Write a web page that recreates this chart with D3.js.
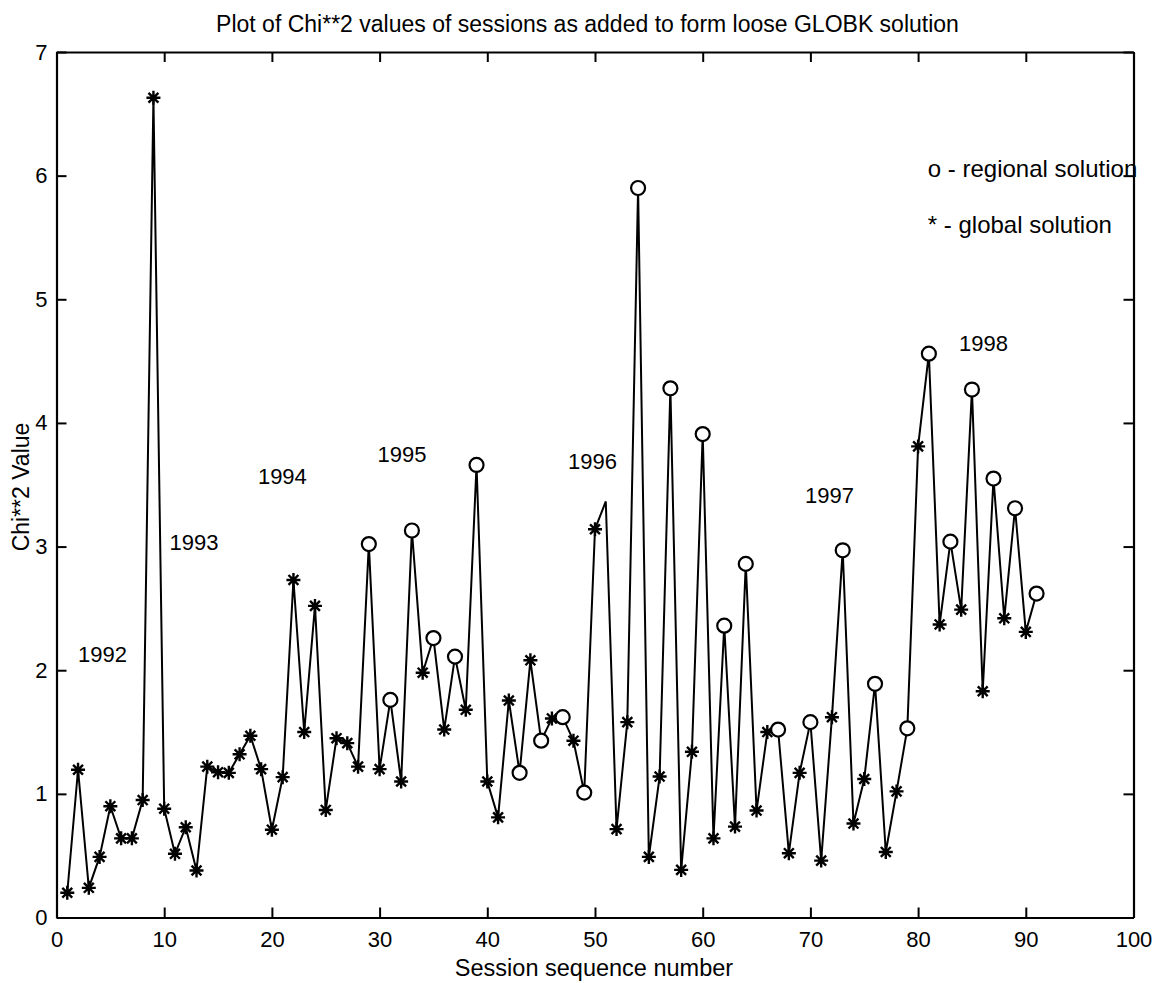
<!DOCTYPE html>
<html>
<head>
<meta charset="utf-8">
<script src="https://cdn.jsdelivr.net/npm/d3@7/dist/d3.min.js"></script>
<style>
  body { margin: 0; background: #fff; }
  svg { display: block; font-family: "Liberation Sans", Arial, Helvetica, sans-serif; }
</style>
</head>
<body>
<svg id="chart"></svg>
<script>
"use strict";

// Chi**2 value of each session, in sequence order 1..91
const chiValues = [
  0.20, 1.195, 0.24, 0.49, 0.90, 0.64, 0.64, 0.95, 6.63, 0.88,
  0.515, 0.73, 0.38, 1.22, 1.175, 1.17, 1.32, 1.47, 1.20, 0.71,
  1.135, 2.73, 1.50, 2.52, 0.87, 1.45, 1.41, 1.22, 3.02, 1.20,
  1.76, 1.10, 3.13, 1.98, 2.26, 1.52, 2.11, 1.68, 3.66, 1.10,
  0.81, 1.755, 1.17, 2.08, 1.43, 1.61, 1.62, 1.43, 1.01, 3.14,
  3.365, 0.715, 1.58, 5.90, 0.49, 1.14, 4.28, 0.385, 1.34, 3.91,
  0.64, 2.36, 0.735, 2.86, 0.865, 1.50, 1.52, 0.52, 1.17, 1.58,
  0.46, 1.62, 2.97, 0.76, 1.12, 1.89, 0.53, 1.02, 1.53, 3.81,
  4.56, 2.37, 3.04, 2.49, 4.27, 1.83, 3.55, 2.42, 3.31, 2.31,
  2.62
];

// marker per session: "o" regional, "*" global, "" none
const solutionTypes = [
  "*", "*", "*", "*", "*", "*", "*", "*", "*", "*",
  "*", "*", "*", "*", "*", "*", "*", "*", "*", "*",
  "*", "*", "*", "*", "*", "*", "*", "*", "o", "*",
  "o", "*", "o", "*", "o", "*", "o", "*", "o", "*",
  "*", "*", "o", "*", "o", "*", "o", "*", "o", "*",
  "", "*", "*", "o", "*", "*", "o", "*", "*", "o",
  "*", "o", "*", "o", "*", "*", "o", "*", "*", "o",
  "*", "*", "o", "*", "*", "o", "*", "*", "o", "*",
  "o", "*", "o", "*", "o", "*", "o", "*", "o", "*",
  "o"
];

const sessions = chiValues.map((v, i) => i + 1);

// year annotations (session number, chi value of text anchor)
const yearNames = ["1992", "1993", "1994", "1995", "1996", "1997", "1998"];
const yearSessions = [2.0, 10.5, 18.7, 29.8, 47.5, 69.5, 83.8];
const yearChi = [2.07, 2.97, 3.51, 3.68, 3.63, 3.35, 4.58];

const legendLines = ["o - regional solution", "* - global solution"];
const legendSession = 80.9;
const legendChi = [5.99, 5.54];

const xTicks = [0, 10, 20, 30, 40, 50, 60, 70, 80, 90, 100];
const yTicks = [0, 1, 2, 3, 4, 5, 6, 7];

const width = 1155;
const height = 983;
const plotLeft = 56.5;
const plotRight = 1133.5;
const plotTop = 52;
const plotBottom = 917.5;

const svg = d3.select("#chart").attr("width", width).attr("height", height);

const xScale = d3.scaleLinear().domain([0, 100]).range([plotLeft, plotRight]);
const yScale = d3.scaleLinear().domain([0, 7]).range([plotBottom, plotTop]);

const styleAxis = (g) => {
  g.select(".domain").attr("stroke", "#000").attr("stroke-width", 2.2);
  g.selectAll(".tick line").attr("stroke", "#000").attr("stroke-width", 2);
  g.selectAll(".tick text").attr("fill", "#000").attr("font-size", 22)
    .attr("font-family", "\"Liberation Sans\", Arial, Helvetica, sans-serif");
};

svg.append("g")
  .attr("transform", `translate(0,${plotBottom})`)
  .call(d3.axisBottom(xScale).tickValues(xTicks).tickFormat(d3.format("d"))
    .tickSizeInner(-10).tickSizeOuter(0).tickPadding(14))
  .call(styleAxis);

svg.append("g")
  .attr("transform", `translate(0,${plotTop})`)
  .call(d3.axisTop(xScale).tickValues(xTicks).tickFormat("")
    .tickSizeInner(-10).tickSizeOuter(0))
  .call(styleAxis);

svg.append("g")
  .attr("transform", `translate(${plotLeft},0)`)
  .call(d3.axisLeft(yScale).tickValues(yTicks).tickFormat(d3.format("d"))
    .tickSizeInner(-10).tickSizeOuter(0).tickPadding(9))
  .call(styleAxis);

svg.append("g")
  .attr("transform", `translate(${plotRight},0)`)
  .call(d3.axisRight(yScale).tickValues(yTicks).tickFormat("")
    .tickSizeInner(-10).tickSizeOuter(0))
  .call(styleAxis);

// connecting line
const line = d3.line()
  .x((d, i) => xScale(sessions[i]))
  .y((d) => yScale(d));

svg.append("path")
  .datum(chiValues)
  .attr("fill", "none")
  .attr("stroke", "#000")
  .attr("stroke-width", 2)
  .attr("stroke-linejoin", "miter")
  .attr("d", line);

// markers
const points = chiValues.map((v, i) => ({ x: sessions[i], y: v, type: solutionTypes[i] }));

const starPath = (() => {
  const r = 7;
  const q = r * Math.SQRT1_2;
  return `M${-r},0L${r},0M0,${-r}L0,${r}M${-q},${-q}L${q},${q}M${-q},${q}L${q},${-q}`;
})();

svg.append("g")
  .selectAll("path")
  .data(points.filter((p) => p.type === "*"))
  .join("path")
  .attr("transform", (p) => `translate(${xScale(p.x)},${yScale(p.y)})`)
  .attr("d", starPath)
  .attr("fill", "none")
  .attr("stroke", "#000")
  .attr("stroke-width", 2.4);

svg.append("g")
  .selectAll("circle")
  .data(points.filter((p) => p.type === "o"))
  .join("circle")
  .attr("cx", (p) => xScale(p.x))
  .attr("cy", (p) => yScale(p.y))
  .attr("r", 7)
  .attr("fill", "#fff")
  .attr("stroke", "#000")
  .attr("stroke-width", 2.2);

// year labels
svg.append("g")
  .selectAll("text")
  .data(yearNames)
  .join("text")
  .attr("x", (d, i) => xScale(yearSessions[i]))
  .attr("y", (d, i) => yScale(yearChi[i]))
  .attr("font-size", 22)
  .attr("fill", "#000")
  .text((d) => d);

// legend text
svg.append("g")
  .selectAll("text")
  .data(legendLines)
  .join("text")
  .attr("x", xScale(legendSession))
  .attr("y", (d, i) => yScale(legendChi[i]))
  .attr("font-size", 24)
  .attr("fill", "#000")
  .text((d) => d);

// titles
svg.append("text")
  .attr("x", 587.5)
  .attr("y", 32)
  .attr("text-anchor", "middle")
  .attr("font-size", 23)
  .attr("fill", "#000")
  .text("Plot of Chi**2 values of sessions as added to form loose GLOBK solution");

svg.append("text")
  .attr("x", 594)
  .attr("y", 976)
  .attr("text-anchor", "middle")
  .attr("font-size", 23.5)
  .attr("fill", "#000")
  .text("Session sequence number");

svg.append("text")
  .attr("transform", "translate(29,487) rotate(-90)")
  .attr("text-anchor", "middle")
  .attr("font-size", 23)
  .attr("fill", "#000")
  .text("Chi**2 Value");
</script>
</body>
</html>
